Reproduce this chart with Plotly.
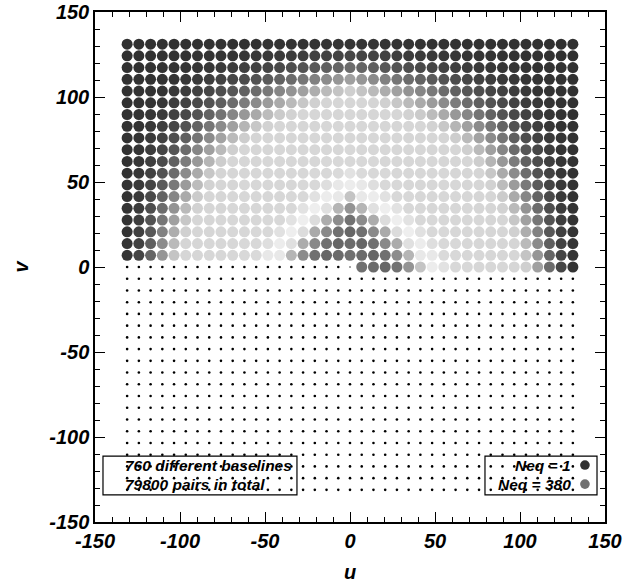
import numpy as np
import plotly.graph_objects as go

# grid coordinates of the baselines (u, v)
U_VALS = [-131.1, -124.2, -117.3, -110.4, -103.5, -96.6, -89.7, -82.8, -75.9, -69.0,
          -62.1, -55.2, -48.3, -41.4, -34.5, -27.6, -20.7, -13.8, -6.9, 0.0,
          6.9, 13.8, 20.7, 27.6, 34.5, 41.4, 48.3, 55.2, 62.1, 69.0,
          75.9, 82.8, 89.7, 96.6, 103.5, 110.4, 117.3, 124.2, 131.1]
V_VALS = [0.0, 6.9, 13.8, 20.7, 27.6, 34.5, 41.4, 48.3, 55.2, 62.1,
          69.0, 75.9, 82.8, 89.7, 96.6, 103.5, 110.4, 117.3, 124.2, 131.1]

N = None
# number of equivalent (redundant) pairs per baseline, row per v value (v=0 first)
NEQ = [
    [N, N, N, N, N, N, N, N, N, N, N, N, N, N, N, N, N, N, N, N,
     380, 360, 340, 320, 300, 280, 260, 240, 220, 200, 180, 160, 140, 120, 100, 80, 60, 40, 20],
    [19, 38, 57, 76, 95, 114, 133, 152, 171, 190, 209, 228, 247, 266, 285, 304, 323, 342, 361, 380,
     361, 342, 323, 304, 285, 266, 247, 228, 209, 190, 171, 152, 133, 114, 95, 76, 57, 38, 19],
    [18, 36, 54, 72, 90, 108, 126, 144, 162, 180, 198, 216, 234, 252, 270, 288, 306, 324, 342, 360,
     342, 324, 306, 288, 270, 252, 234, 216, 198, 180, 162, 144, 126, 108, 90, 72, 54, 36, 18],
    [17, 34, 51, 68, 85, 102, 119, 136, 153, 170, 187, 204, 221, 238, 255, 272, 289, 306, 323, 340,
     323, 306, 289, 272, 255, 238, 221, 204, 187, 170, 153, 136, 119, 102, 85, 68, 51, 34, 17],
    [16, 32, 48, 64, 80, 96, 112, 128, 144, 160, 176, 192, 208, 224, 240, 256, 272, 288, 304, 320,
     304, 288, 272, 256, 240, 224, 208, 192, 176, 160, 144, 128, 112, 96, 80, 64, 48, 32, 16],
    [15, 30, 45, 60, 75, 90, 105, 120, 135, 150, 165, 180, 195, 210, 225, 240, 255, 270, 285, 300,
     285, 270, 255, 240, 225, 210, 195, 180, 165, 150, 135, 120, 105, 90, 75, 60, 45, 30, 15],
    [14, 28, 42, 56, 70, 84, 98, 112, 126, 140, 154, 168, 182, 196, 210, 224, 238, 252, 266, 280,
     266, 252, 238, 224, 210, 196, 182, 168, 154, 140, 126, 112, 98, 84, 70, 56, 42, 28, 14],
    [13, 26, 39, 52, 65, 78, 91, 104, 117, 130, 143, 156, 169, 182, 195, 208, 221, 234, 247, 260,
     247, 234, 221, 208, 195, 182, 169, 156, 143, 130, 117, 104, 91, 78, 65, 52, 39, 26, 13],
    [12, 24, 36, 48, 60, 72, 84, 96, 108, 120, 132, 144, 156, 168, 180, 192, 204, 216, 228, 240,
     228, 216, 204, 192, 180, 168, 156, 144, 132, 120, 108, 96, 84, 72, 60, 48, 36, 24, 12],
    [11, 22, 33, 44, 55, 66, 77, 88, 99, 110, 121, 132, 143, 154, 165, 176, 187, 198, 209, 220,
     209, 198, 187, 176, 165, 154, 143, 132, 121, 110, 99, 88, 77, 66, 55, 44, 33, 22, 11],
    [10, 20, 30, 40, 50, 60, 70, 80, 90, 100, 110, 120, 130, 140, 150, 160, 170, 180, 190, 200,
     190, 180, 170, 160, 150, 140, 130, 120, 110, 100, 90, 80, 70, 60, 50, 40, 30, 20, 10],
    [9, 18, 27, 36, 45, 54, 63, 72, 81, 90, 99, 108, 117, 126, 135, 144, 153, 162, 171, 180,
     171, 162, 153, 144, 135, 126, 117, 108, 99, 90, 81, 72, 63, 54, 45, 36, 27, 18, 9],
    [8, 16, 24, 32, 40, 48, 56, 64, 72, 80, 88, 96, 104, 112, 120, 128, 136, 144, 152, 160,
     152, 144, 136, 128, 120, 112, 104, 96, 88, 80, 72, 64, 56, 48, 40, 32, 24, 16, 8],
    [7, 14, 21, 28, 35, 42, 49, 56, 63, 70, 77, 84, 91, 98, 105, 112, 119, 126, 133, 140,
     133, 126, 119, 112, 105, 98, 91, 84, 77, 70, 63, 56, 49, 42, 35, 28, 21, 14, 7],
    [6, 12, 18, 24, 30, 36, 42, 48, 54, 60, 66, 72, 78, 84, 90, 96, 102, 108, 114, 120,
     114, 108, 102, 96, 90, 84, 78, 72, 66, 60, 54, 48, 42, 36, 30, 24, 18, 12, 6],
    [5, 10, 15, 20, 25, 30, 35, 40, 45, 50, 55, 60, 65, 70, 75, 80, 85, 90, 95, 100,
     95, 90, 85, 80, 75, 70, 65, 60, 55, 50, 45, 40, 35, 30, 25, 20, 15, 10, 5],
    [4, 8, 12, 16, 20, 24, 28, 32, 36, 40, 44, 48, 52, 56, 60, 64, 68, 72, 76, 80,
     76, 72, 68, 64, 60, 56, 52, 48, 44, 40, 36, 32, 28, 24, 20, 16, 12, 8, 4],
    [3, 6, 9, 12, 15, 18, 21, 24, 27, 30, 33, 36, 39, 42, 45, 48, 51, 54, 57, 60,
     57, 54, 51, 48, 45, 42, 39, 36, 33, 30, 27, 24, 21, 18, 15, 12, 9, 6, 3],
    [2, 4, 6, 8, 10, 12, 14, 16, 18, 20, 22, 24, 26, 28, 30, 32, 34, 36, 38, 40,
     38, 36, 34, 32, 30, 28, 26, 24, 22, 20, 18, 16, 14, 12, 10, 8, 6, 4, 2],
    [1, 2, 3, 4, 5, 6, 7, 8, 9, 10, 11, 12, 13, 14, 15, 16, 17, 18, 19, 20,
     19, 18, 17, 16, 15, 14, 13, 12, 11, 10, 9, 8, 7, 6, 5, 4, 3, 2, 1],
]

LEGEND_NEQ = [1, 380]
INFO_LINES = ["760 different baselines", "79800 pairs in total"]
TICK_VALS = [-150, -100, -50, 0, 50, 100, 150]
TICK_TEXT = ["-150", "-100", "-50", "0", "50", "100", "150"]

# grey colour table (Neq -> grey level), style only
CT_X = [0, 20, 30, 40, 50, 60, 70, 80, 90, 100, 110, 225, 240, 255, 265, 272, 288, 304, 320, 340, 380]
CT_G = [0x30, 0x34, 0x3c, 0x46, 0x56, 0x6c, 0x86, 0xa0, 0xba, 0xcf, 0xd6, 0xd8, 0xe2, 0xee, 0xea,
        0xdc, 0xac, 0x8c, 0x72, 0x66, 0x70]


def grey(n):
    g = int(round(float(np.interp(n, CT_X, CT_G))))
    return f"rgb({g},{g},{g})"


def bi(s):
    return f"<b><i>{s}</i></b>"


us, vs, cols = [], [], []
for vi, row in enumerate(NEQ):
    for ui, n in enumerate(row):
        if n is None:
            continue
        us.append(U_VALS[ui])
        vs.append(V_VALS[vi])
        cols.append(grey(n))

# conjugate baselines (-u, -v) shown as small dots
cu = [-u for u in us]
cv = [-v for v in vs]

FONT = "Liberation Sans"
fig = go.Figure()
fig.add_trace(go.Scatter(x=cu, y=cv, mode="markers",
                         marker=dict(size=2.6, color="black", line=dict(width=0)),
                         showlegend=False, hoverinfo="skip"))
fig.add_trace(go.Scatter(x=[0.0], y=[0.0], mode="markers",
                         marker=dict(size=2, color="#888888", line=dict(width=0)),
                         showlegend=False, hoverinfo="skip"))
fig.add_trace(go.Scatter(x=us, y=vs, mode="markers",
                         marker=dict(size=11, color=cols, line=dict(width=0)),
                         showlegend=False, hoverinfo="skip"))

tfont = dict(family=FONT, size=20, color="black")
axis_common = dict(range=[-150, 150], tickmode="array", tickvals=TICK_VALS,
                   ticktext=[bi(t) for t in TICK_TEXT],
                   ticks="inside", ticklen=10, tickwidth=1.2, automargin=False,
                   tickcolor="black", showline=True, linecolor="black", linewidth=1.5, mirror="allticks",
                   showgrid=False, zeroline=False, tickfont=tfont,
                   minor=dict(dtick=10, tick0=0, ticks="inside", ticklen=5, tickwidth=1, tickcolor="black",
                              showgrid=False))

fig.update_layout(
    width=642, height=583,
    margin=dict(l=95, r=37, t=12, b=61, autoexpand=False),
    plot_bgcolor="white", paper_bgcolor="white",
    xaxis=dict(axis_common, title=dict(text=bi("u"), font=tfont, standoff=17)),
    yaxis=dict(axis_common, title=dict(text=bi("v"), font=tfont, standoff=15)),
    showlegend=False,
)

afont = dict(family=FONT, size=15.5, color="black")
# info box (left) and legend box (right)
fig.add_shape(type="rect", xref="x", yref="y", x0=-145.3, x1=-31.2, y0=-111.2, y1=-134.1,
              line=dict(color="black", width=1.2))
fig.add_shape(type="rect", xref="x", yref="y", x0=79.4, x1=145.3, y0=-111.2, y1=-134.1,
              line=dict(color="black", width=1.2))
for k, t in enumerate(INFO_LINES):
    fig.add_annotation(x=-133.5, y=-116.5 - 11.2 * k, xref="x", yref="y", text=bi(t), showarrow=False,
                       xanchor="left", yanchor="middle", font=afont)
for k, n in enumerate(LEGEND_NEQ):
    yy = -116.5 - 11.2 * k
    fig.add_annotation(x=131.0, y=yy, xref="x", yref="y", text=bi(f"Neq = {n}"), showarrow=False,
                       xanchor="right", yanchor="middle", font=afont)
    fig.add_shape(type="circle", xref="x", yref="y", xsizemode="pixel", ysizemode="pixel",
                  xanchor=138.2, yanchor=yy, x0=-4.8, x1=4.8, y0=-4.8, y1=4.8,
                  fillcolor=grey(n), line=dict(width=0))

fig.write_html("out.html", config={"displayModeBar": False},
               post_script=["document.body.style.margin='0px';"])
